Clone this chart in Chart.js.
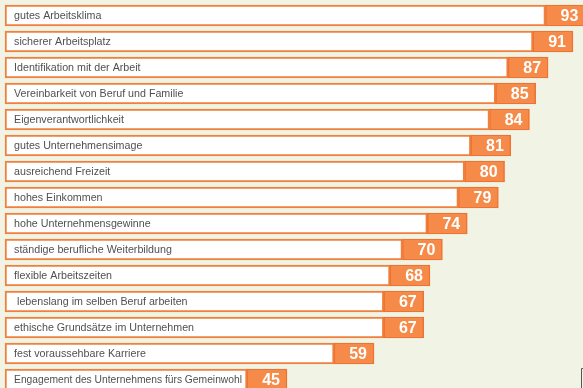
<!DOCTYPE html>
<html>
<head>
<meta charset="utf-8">
<script src="https://cdn.jsdelivr.net/npm/chart.js@4/dist/chart.umd.min.js"></script>
<style>
  html, body { margin: 0; padding: 0; background: #f1f4e5; overflow: hidden; }
  #wrap { position: relative; width: 600px; height: 395px; }
</style>
</head>
<body>
<div id="wrap"><canvas id="chart"></canvas></div>
<script>
// Werte in Prozent, von oben nach unten
const labels = [
  "gutes Arbeitsklima",
  "sicherer Arbeitsplatz",
  "Identifikation mit der Arbeit",
  "Vereinbarkeit von Beruf und Familie",
  "Eigenverantwortlichkeit",
  "gutes Unternehmensimage",
  "ausreichend Freizeit",
  "hohes Einkommen",
  "hohe Unternehmensgewinne",
  "ständige berufliche Weiterbildung",
  "flexible Arbeitszeiten",
  " lebenslang im selben Beruf arbeiten",
  "ethische Grundsätze im Unternehmen",
  "fest voraussehbare Karriere",
  "Engagement des Unternehmens fürs Gemeinwohl"
];
const values = [93, 91, 87, 85, 84, 81, 80, 79, 74, 70, 68, 67, 67, 59, 45];

const ORANGE = "#f68a48";
const ORANGE_EDGE = "#ee7332";
const boxUnits = 6.43;    // width of the number box, in scale units
const startUnits = -0.35; // where the text box begins

const valueBoxes = values.map(v => [v - boxUnits, v]);
const textBoxes  = values.map(v => [startUnits, v - boxUnits]);

const labelPlugin = {
  id: "boxLabels",
  afterDatasetsDraw(chart) {
    const { ctx, scales: { x, y } } = chart;
    ctx.save();
    ctx.textBaseline = "middle";
    labels.forEach((txt, i) => {
      const cy = y.getPixelForValue(i);
      const left = x.getPixelForValue(startUnits) + 9;
      // squeeze the text if it would run into the number box
      const room = x.getPixelForValue(values[i] - boxUnits) - left - 5;
      ctx.font = "10.7px 'Liberation Sans', Arial, sans-serif";
      ctx.fillStyle = "#505050";
      ctx.textAlign = "left";
      ctx.fillText(txt, left, cy + 0.5, room);
      ctx.font = "bold 16px 'Liberation Sans', Arial, sans-serif";
      ctx.fillStyle = "#ffffff";
      ctx.textAlign = "right";
      ctx.fillText(String(values[i]), x.getPixelForValue(values[i]) - 7, cy + 1);
    });
    // small frame corner at the lower right
    ctx.strokeStyle = "#555";
    ctx.lineWidth = 1;
    ctx.beginPath();
    ctx.moveTo(581.5, 400);
    ctx.lineTo(581.5, 368.5);
    ctx.lineTo(590, 368.5);
    ctx.stroke();
    ctx.restore();
  }
};

new Chart(document.getElementById("chart"), {
  type: "bar",
  data: {
    labels,
    datasets: [
      {
        data: valueBoxes,
        backgroundColor: ORANGE,
        borderColor: ORANGE_EDGE,
        borderWidth: 1.5,
        borderSkipped: false,
        barThickness: 21,
        grouped: false
      },
      {
        data: textBoxes,
        backgroundColor: "#ffffff",
        borderColor: "#f0803e",
        borderWidth: 2,
        borderSkipped: false,
        barThickness: 21,
        grouped: false
      }
    ]
  },
  options: {
    indexAxis: "y",
    responsive: true,
    maintainAspectRatio: false,
    animation: false,
    layout: { padding: { top: 2.5, bottom: 2.5, left: 0, right: 0 } },
    scales: {
      x: { type: "linear", min: -1.16, max: 95.35, display: false },
      y: { type: "category", offset: true, display: false }
    },
    plugins: {
      legend: { display: false },
      tooltip: { enabled: false }
    }
  },
  plugins: [labelPlugin]
});
</script>
</body>
</html>
